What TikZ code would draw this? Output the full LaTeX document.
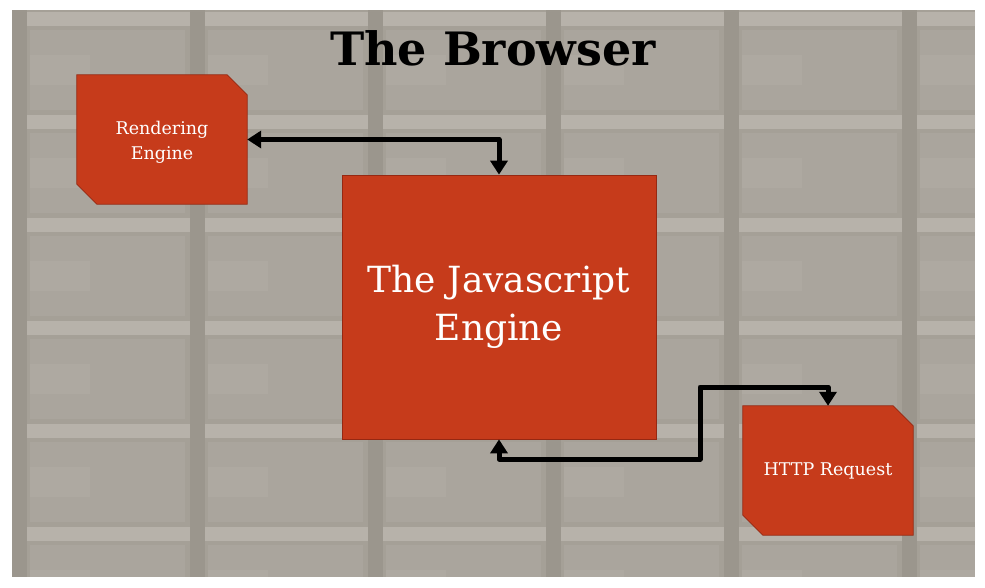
\documentclass[tikz,border=0pt]{standalone}
\usepackage{fontspec}
\setmainfont{DejaVu Serif}
\usetikzlibrary{arrows.meta}
\definecolor{bg}{RGB}{165,160,151}
\definecolor{bgdark}{RGB}{155,150,141}
\definecolor{bglight}{RGB}{205,200,194}
\definecolor{boxred}{RGB}{198,59,27}
\definecolor{boxedge}{RGB}{150,40,18}
\tikzset{
  redbox/.style={fill=boxred, draw=boxedge, line width=0.7pt, text=white, align=center, inner sep=0pt},
  snipbox/.style={text=white, align=center, inner sep=0pt, minimum width=170pt, minimum height=129pt},
  snipfill/.style={fill=boxred, draw=boxedge, line width=0.7pt},
  conn/.style={line width=5pt, line join=round, line cap=round, {Triangle[length=14pt,width=17pt]}-{Triangle[length=14pt,width=17pt]}},
}
\begin{document}
\begin{tikzpicture}[x=1pt,y=-1pt]
\useasboundingbox (0,0) rectangle (985,587);
% textured background
\begin{scope}
\clip (12,10) rectangle (975,577);
\fill[bg] (12,10) rectangle (975,577);
\foreach \r in {0,...,5}{
  \foreach \c in {0,...,5}{
    \fill[white, opacity=0.06] (30+178*\c,30+103*\r) rectangle (185+178*\c,110+103*\r);
    \fill[white, opacity=0.05] (30+178*\c,55+103*\r) rectangle (90+178*\c,85+103*\r);
    \fill[bglight, opacity=0.45] (27+178*\c,12+103*\r) rectangle (190+178*\c,26+103*\r);
  }
}
\foreach \c in {0,...,5}{
  \fill[bgdark] (12+178*\c,10) rectangle (27+178*\c,577);
}
\end{scope}
% title
\node[text=black, font=\bfseries\fontsize{46}{52}\selectfont] (title) at (493,48) {The Browser};
% boxes
\node[snipbox] (re) at (162,139.5) {};
\filldraw[snipfill] (re.north west) -- ([xshift=-20pt]re.north east) -- ([yshift=-20pt]re.north east) -- (re.south east) -- ([xshift=20pt]re.south west) -- ([yshift=20pt]re.south west) -- cycle;
\node[text=white, align=center, font=\fontsize{17.5}{25}\selectfont] (retext) at (162,142) {Rendering\\Engine};
\node[redbox, minimum width=314pt, minimum height=264pt, font=\fontsize{36}{48}\selectfont] (js) at (499,307) {The Javascript\\Engine};
\node[snipbox] (http) at (828,470.5) {};
\filldraw[snipfill] (http.north west) -- ([xshift=-20pt]http.north east) -- ([yshift=-20pt]http.north east) -- (http.south east) -- ([xshift=20pt]http.south west) -- ([yshift=20pt]http.south west) -- cycle;
\node[text=white, font=\fontsize{17.5}{25}\selectfont] (httptext) at (828,470.5) {HTTP Request};
% connectors
\coordinate (c1) at (700,459);
\coordinate (c2) at (700,387);
\draw[conn] (re.east) -| (js.north);
\draw[conn] (js.south) |- (c1) -- (c2) -| (http.north);
\end{tikzpicture}
\end{document}
